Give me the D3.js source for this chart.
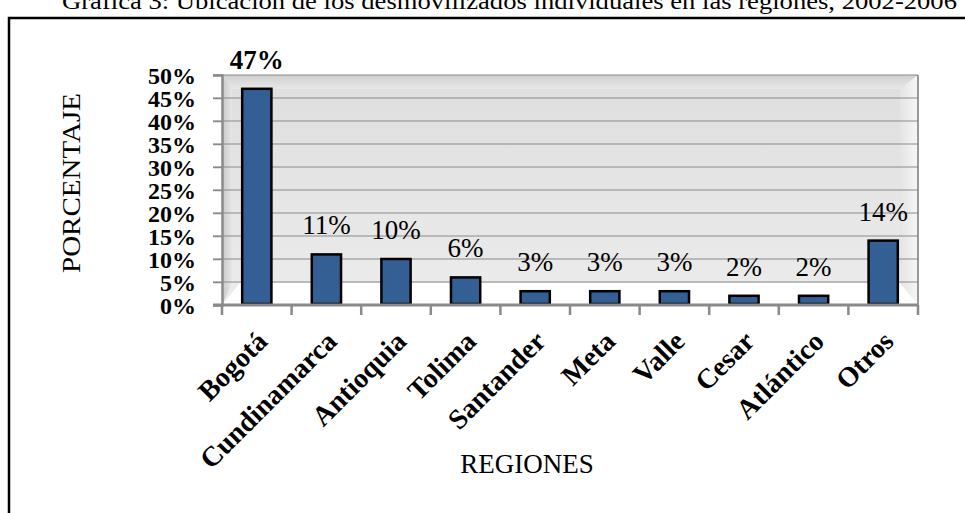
<!DOCTYPE html>
<html>
<head>
<meta charset="utf-8">
<script src="https://cdn.jsdelivr.net/npm/d3@7"></script>
<style>
  html, body { margin: 0; padding: 0; background: #fff; overflow: hidden; }
  svg { display: block; }
</style>
</head>
<body>
<div id="chart"></div>
<script>
const regions = ["Bogotá", "Cundinamarca", "Antioquia", "Tolima", "Santander", "Meta", "Valle", "Cesar", "Atlántico", "Otros"];
const shares = [47, 11, 10, 6, 3, 3, 3, 2, 2, 14];
const yTicks = [0, 5, 10, 15, 20, 25, 30, 35, 40, 45, 50];
const titleText = "Gráfica 3: Ubicación de los desmovilizados individuales en las regiones, 2002-2006";

const width = 965, height = 513;
const plotLeft = 222, plotRight = 918, plotTop = 75, plotBottom = 305;
const serif = "'Liberation Serif', 'Times New Roman', serif";

const svg = d3.select("#chart").append("svg")
    .attr("width", width)
    .attr("height", height);

const x = d3.scaleBand().domain(regions).range([plotLeft, plotRight]).paddingInner(0.58).paddingOuter(0.29);
const y = d3.scaleLinear().domain([0, 50]).range([plotBottom, plotTop]);

// gradients for the 3d-ish wall
const defs = svg.append("defs");
const wallGrad = defs.append("linearGradient").attr("id", "wall").attr("x1", 0).attr("y1", 0).attr("x2", 0).attr("y2", 1);
wallGrad.append("stop").attr("offset", "0%").attr("stop-color", "#dedede");
wallGrad.append("stop").attr("offset", "100%").attr("stop-color", "#ececec");
const sideGrad = defs.append("linearGradient").attr("id", "side").attr("x1", 0).attr("y1", 0).attr("x2", 1).attr("y2", 0);
sideGrad.append("stop").attr("offset", "0%").attr("stop-color", "#e4e4e4");
sideGrad.append("stop").attr("offset", "100%").attr("stop-color", "#f7f7f7");
const leftGrad = defs.append("linearGradient").attr("id", "leftside").attr("x1", 0).attr("y1", 0).attr("x2", 1).attr("y2", 0);
leftGrad.append("stop").attr("offset", "0%").attr("stop-color", "#c8c8c8");
leftGrad.append("stop").attr("offset", "100%").attr("stop-color", "#e6e6e6");
const topGrad = defs.append("linearGradient").attr("id", "topside").attr("x1", 0).attr("y1", 0).attr("x2", 0).attr("y2", 1);
topGrad.append("stop").attr("offset", "0%").attr("stop-color", "#d0d0d0");
topGrad.append("stop").attr("offset", "100%").attr("stop-color", "#e8e8e8");

// title, cut at the top of the page
svg.append("text")
    .attr("x", 62).attr("y", 9)
    .attr("textLength", 895)
    .attr("lengthAdjust", "spacingAndGlyphs")
    .style("font-family", serif)
    .style("font-size", "24px")
    .text(titleText);

// outer frame (runs off the right and bottom)
svg.append("path")
    .attr("d", `M9,${height + 5}V18H${width + 5}`)
    .attr("fill", "none")
    .attr("stroke", "#000")
    .attr("stroke-width", 2.5);

// back wall
const floorY = y(5) + 1, bev = 18;
svg.append("rect")
    .attr("x", plotLeft).attr("y", plotTop)
    .attr("width", plotRight - plotLeft).attr("height", plotBottom - plotTop)
    .attr("fill", "url(#wall)");
// bevel strips
svg.append("polygon")
    .attr("points", [[plotLeft, plotTop], [plotRight, plotTop], [plotRight - bev, plotTop + 14], [plotLeft + 10, plotTop + 14]].join(" "))
    .attr("fill", "url(#topside)");
svg.append("polygon")
    .attr("points", [[plotRight, plotTop], [plotRight, plotBottom], [plotRight - bev, floorY], [plotRight - bev, plotTop + 14]].join(" "))
    .attr("fill", "url(#side)");
svg.append("polygon")
    .attr("points", [[plotLeft, plotTop], [plotLeft + 10, plotTop + 14], [plotLeft + 10, floorY], [plotLeft, plotBottom]].join(" "))
    .attr("fill", "url(#leftside)");
// floor
svg.append("polygon")
    .attr("points", [[plotLeft + bev, floorY], [plotRight - bev, floorY], [plotRight, plotBottom], [plotLeft, plotBottom]].join(" "))
    .attr("fill", "#fff");

// gridlines
svg.selectAll(".grid")
    .data(yTicks.filter(d => d > 0))
    .enter().append("line")
    .attr("class", "grid")
    .attr("x1", plotLeft - 9).attr("x2", plotRight)
    .attr("y1", d => y(d)).attr("y2", d => y(d))
    .attr("stroke", "#8a8a8a")
    .attr("stroke-width", 1.2);

// right edge of wall
svg.append("line")
    .attr("x1", plotRight).attr("x2", plotRight).attr("y1", plotTop).attr("y2", plotBottom)
    .attr("stroke", "#7a7a7a").attr("stroke-width", 1.5);

// y axis
const yAxis = svg.append("g")
    .attr("transform", `translate(${plotLeft},0)`)
    .call(d3.axisLeft(y).tickValues(yTicks).tickSize(9).tickPadding(17).tickFormat(d => d + "%"));
yAxis.select(".domain").attr("stroke", "#8a8a8a").attr("stroke-width", 2.5);
yAxis.selectAll(".tick line").attr("stroke", "#8a8a8a").attr("stroke-width", 1.5);
yAxis.selectAll(".tick text")
    .attr("fill", "#000")
    .attr("dy", "0.36em")
    .style("font-family", serif)
    .style("font-size", "24px")
    .style("font-weight", "bold");

// bars
svg.selectAll(".bar")
    .data(shares)
    .enter().append("rect")
    .attr("class", "bar")
    .attr("x", (d, i) => x(regions[i]))
    .attr("y", d => y(d))
    .attr("width", x.bandwidth())
    .attr("height", d => y(0) - y(d) - 1)
    .attr("fill", "#335f94")
    .attr("stroke", "#000")
    .attr("stroke-width", 2.5);

// x axis
const step = x.step();
const xAxis = svg.append("g").attr("transform", `translate(0,${plotBottom})`);
xAxis.append("line")
    .attr("x1", plotLeft - 9).attr("x2", plotRight)
    .attr("stroke", "#8a8a8a").attr("stroke-width", 3);
xAxis.selectAll(".xtick")
    .data(d3.range(regions.length + 1))
    .enter().append("line")
    .attr("x1", i => plotLeft + i * step).attr("x2", i => plotLeft + i * step)
    .attr("y1", 0).attr("y2", 10)
    .attr("stroke", "#8a8a8a").attr("stroke-width", 2.5);
xAxis.selectAll(".xlabel")
    .data(regions)
    .enter().append("text")
    .attr("transform", d => `translate(${x(d) + x.bandwidth() / 2 + 12},${38}) rotate(-45)`)
    .attr("text-anchor", "end")
    .style("font-family", serif)
    .style("font-size", "28px")
    .style("font-weight", "bold")
    .text(d => d);

// data labels
svg.selectAll(".val")
    .data(shares)
    .enter().append("text")
    .attr("x", (d, i) => x(regions[i]) + x.bandwidth() / 2)
    .attr("y", d => y(d) - 20)
    .attr("text-anchor", "middle")
    .style("font-family", serif)
    .style("font-size", "27px")
    .style("font-weight", (d, i) => i === 0 ? "bold" : "normal")
    .text(d => d + "%");

// axis titles
svg.append("text")
    .attr("transform", "translate(80,183) rotate(-90)")
    .attr("text-anchor", "middle")
    .attr("textLength", 180)
    .attr("lengthAdjust", "spacingAndGlyphs")
    .style("font-family", serif)
    .style("font-size", "26px")
    .text("PORCENTAJE");

svg.append("text")
    .attr("x", 527).attr("y", 473)
    .attr("text-anchor", "middle")
    .style("font-family", serif)
    .style("font-size", "27px")
    .text("REGIONES");
</script>
</body>
</html>
